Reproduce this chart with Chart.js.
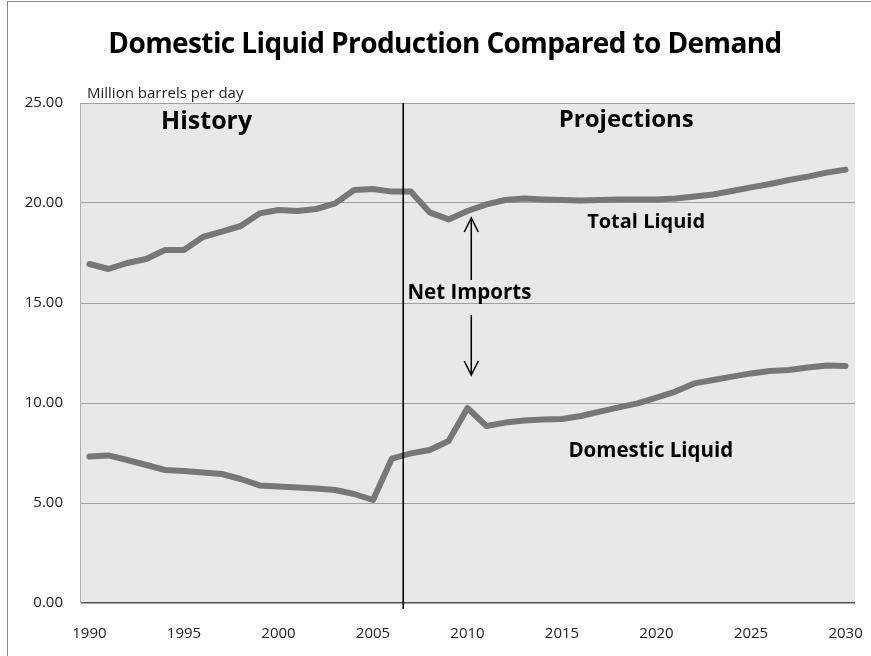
<!DOCTYPE html>
<html>
<head>
<meta charset="utf-8">
<script src="https://cdn.jsdelivr.net/npm/chart.js@4.4.1/dist/chart.umd.min.js"></script>
<style>
  html, body { margin: 0; padding: 0; background: #fff; overflow: hidden; }
  #wrap { position: relative; width: 871px; height: 656px; }
  #chart { display: block; }
  #frame { position: absolute; left: 7px; top: 1px; right: 0; bottom: 0; border-left: 1px solid #8a8a8a; border-top: 1px solid #8a8a8a; pointer-events: none; }
</style>
</head>
<body>
<div id="wrap">
  <canvas id="chart" width="871" height="656"></canvas>
  <div id="frame"></div>
</div>
<script>
// values, million barrels per day
const years = [];
for (let y = 1990; y <= 2030; y++) years.push(y);

const totalLiquid = [
  16.95, 16.7, 17.0, 17.2, 17.65, 17.65, 18.3, 18.57, 18.85, 19.48,
  19.65, 19.6, 19.7, 19.98, 20.65, 20.7, 20.57, 20.57, 19.53, 19.18,
  19.6, 19.93, 20.15, 20.22, 20.18, 20.15, 20.13, 20.15, 20.17, 20.18,
  20.18, 20.23, 20.32, 20.43, 20.6, 20.78, 20.95, 21.15, 21.32, 21.52,
  21.67
];

const domesticLiquid = [
  7.32, 7.38, 7.15, 6.9, 6.65, 6.6, 6.52, 6.45, 6.2, 5.88,
  5.82, 5.78, 5.73, 5.65, 5.45, 5.15, 7.22, 7.48, 7.65, 8.1,
  9.75, 8.85, 9.02, 9.12, 9.18, 9.2, 9.35, 9.57, 9.78, 9.98,
  10.27, 10.57, 10.98, 11.15, 11.32, 11.48, 11.6, 11.65, 11.77, 11.87,
  11.85
];

const yTicks = [0, 5, 10, 15, 20, 25];
const xLabelYears = [1990, 1995, 2000, 2005, 2010, 2015, 2020, 2025, 2030];
const dividerYear = 2006.6;

const FONT = "'Open Sans', 'Noto Sans', sans-serif";
const lineColor = '#777777';

// text and arrows placed in data units (year, value)
const notes = [
  { text: 'History', year: 1996.2, value: 24.05, size: 25 },
  { text: 'Projections', year: 2018.4, value: 24.15, size: 24 },
  { text: 'Total Liquid', year: 2019.45, value: 19.05, size: 20 },
  { text: 'Net Imports', year: 2010.1, value: 15.5, size: 20.5 },
  { text: 'Domestic Liquid', year: 2019.7, value: 7.6, size: 20.5 }
];
const arrows = [
  { year: 2010.2, from: 16.15, to: 19.25 },
  { year: 2010.2, from: 14.4, to: 11.4 }
];

const overlay = {
  id: 'overlay',
  afterDraw(chart) {
    const ctx = chart.ctx;
    const xs = chart.scales.x, ys = chart.scales.y;
    const px = yr => xs.getPixelForValue(yr - years[0]);
    const area = chart.chartArea;
    ctx.save();

    // divider history / projections
    ctx.strokeStyle = '#000';
    ctx.lineWidth = 1.6;
    ctx.beginPath();
    ctx.moveTo(px(dividerYear), area.top);
    ctx.lineTo(px(dividerYear), area.bottom + 6);
    ctx.stroke();

    // title
    ctx.fillStyle = '#000';
    ctx.textAlign = 'center';
    ctx.textBaseline = 'middle';
    ctx.font = 'bold 28px ' + FONT;
    ctx.letterSpacing = '-0.6px';
    ctx.fillText('Domestic Liquid Production Compared to Demand', 445, 45);
    ctx.letterSpacing = '0px';

    ctx.font = '15px ' + FONT;
    ctx.fillStyle = '#222';
    ctx.textAlign = 'left';
    ctx.fillText('Million barrels per day', 87, 94);

    ctx.fillStyle = '#000';
    ctx.textAlign = 'center';
    notes.forEach(n => {
      ctx.font = 'bold ' + n.size + 'px ' + FONT;
      ctx.fillText(n.text, px(n.year), ys.getPixelForValue(n.value));
    });

    // arrows
    ctx.lineWidth = 1.5;
    arrows.forEach(a => {
      const x = px(a.year);
      const y0 = ys.getPixelForValue(a.from);
      const y1 = ys.getPixelForValue(a.to);
      const d = y1 < y0 ? 1 : -1;
      ctx.beginPath();
      ctx.moveTo(x, y0);
      ctx.lineTo(x, y1);
      ctx.moveTo(x - 7, y1 + d * 14);
      ctx.lineTo(x, y1);
      ctx.lineTo(x + 7, y1 + d * 14);
      ctx.stroke();
    });
    ctx.restore();
  }
};

const plotBg = {
  id: 'plotBg',
  beforeDraw(chart) {
    const a = chart.chartArea;
    chart.ctx.save();
    chart.ctx.fillStyle = '#e8e8e8';
    chart.ctx.fillRect(a.left, a.top, a.right - a.left, a.bottom - a.top);
    chart.ctx.restore();
  }
};

new Chart(document.getElementById('chart'), {
  type: 'line',
  data: {
    labels: years,
    datasets: [
      { label: 'Total Liquid', data: totalLiquid },
      { label: 'Domestic Liquid', data: domesticLiquid }
    ].map(d => Object.assign(d, {
      borderColor: lineColor,
      borderWidth: 6,
      borderJoinStyle: 'round',
      borderCapStyle: 'round',
      pointRadius: 0,
      tension: 0,
      fill: false
    }))
  },
  options: {
    responsive: false,
    animation: false,
    layout: { padding: { top: 103, right: 0, left: 0, bottom: 0 } },
    plugins: { legend: { display: false }, tooltip: { enabled: false } },
    scales: {
      x: {
        type: 'category',
        offset: true,
        grid: { display: false, drawTicks: false },
        border: { display: false },
        ticks: {
          autoSkip: false,
          maxRotation: 0,
          padding: 22,
          color: '#222',
          font: { family: FONT, size: 15 },
          callback: (v, i) => xLabelYears.includes(years[i]) ? String(years[i]) : ''
        },
        afterFit: s => { s.height = 53; s.paddingRight = 16; }
      },
      y: {
        min: 0,
        max: 25,
        afterBuildTicks: s => { s.ticks = yTicks.map(v => ({ value: v })); },
        grid: {
          color: c => c.tick.value === 0 ? '#555' : '#a0a0a0',
          lineWidth: c => c.tick.value === 0 ? 1.5 : 1,
          drawTicks: false
        },
        border: { display: true, color: '#b0b0b0' },
        ticks: {
          padding: 17,
          color: '#222',
          font: { family: FONT, size: 15 },
          callback: v => v.toFixed(2)
        },
        afterFit: s => { s.width = 80; }
      }
    }
  },
  plugins: [plotBg, overlay]
});
</script>
</body>
</html>
